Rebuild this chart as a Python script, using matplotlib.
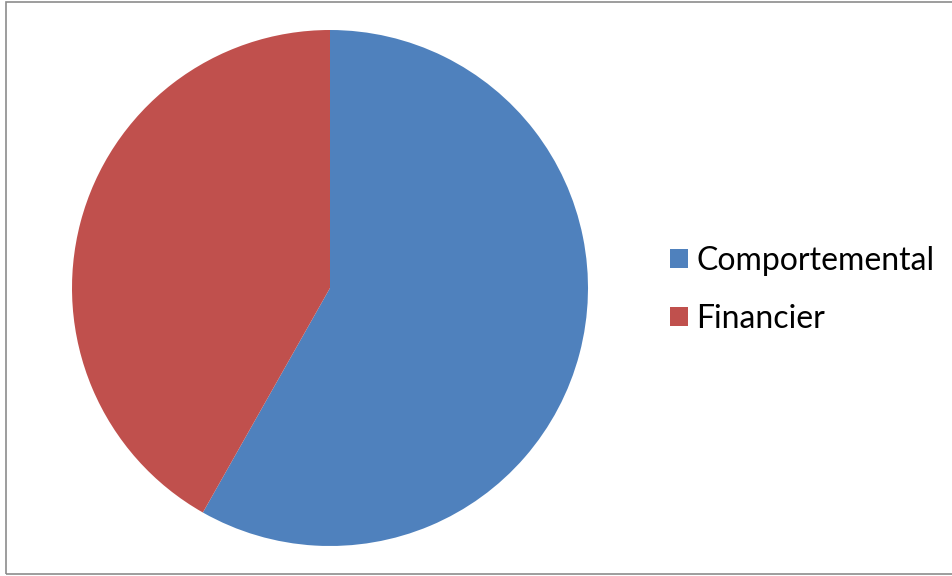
import matplotlib.pyplot as plt
from matplotlib.patches import Rectangle

labels = ['Comportemental', 'Financier']
values = [58.2, 41.8]
colors = ['#4f81bd', '#c0504d']

fig = plt.figure(figsize=(9.53, 5.76), dpi=100)

# grey frame of the chart area
fig.patches.append(Rectangle((6 / 953, 2 / 576), 1.0, 572 / 576, transform=fig.transFigure,
                             fill=False, edgecolor='#8c8c8c', linewidth=1.2))

ax = fig.add_axes([72 / 953, 30 / 576, 516 / 953, 516 / 576])
wedges, _ = ax.pie(values, colors=colors, startangle=90, counterclock=False, radius=1,
                   wedgeprops=dict(linewidth=0))
ax.set_xlim(-1, 1)
ax.set_ylim(-1, 1)
ax.set_aspect('equal')
ax.axis('off')

fig.legend(wedges, labels, loc='center left', bbox_to_anchor=(641 / 953, 0.497),
           frameon=False, prop={'family': 'Lato', 'size': 23},
           handlelength=0.56, handleheight=0.56, handletextpad=0.28, labelspacing=0.87)

fig.savefig('out.png', dpi=100)
